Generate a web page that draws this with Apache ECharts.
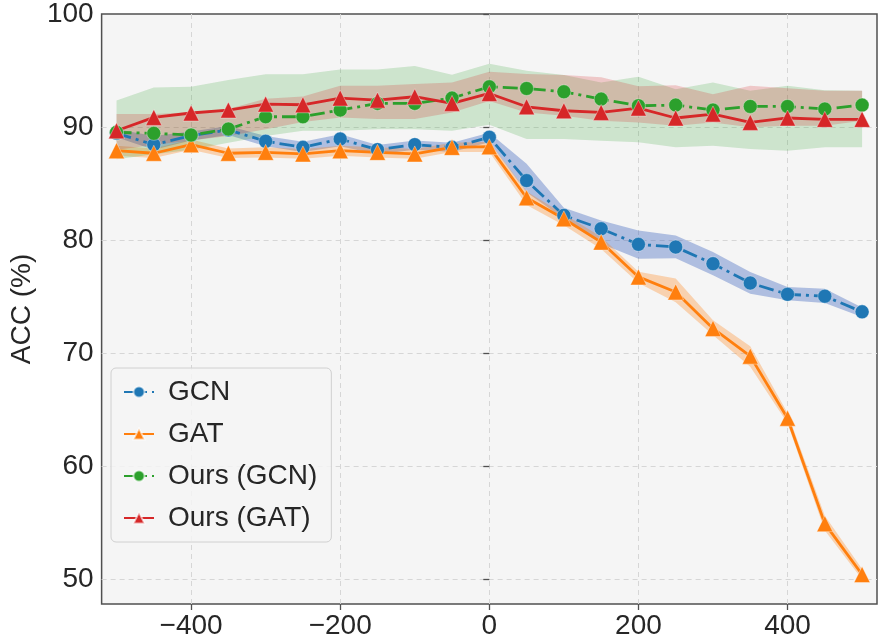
<!DOCTYPE html>
<html>
<head>
<meta charset="utf-8">
<script src="https://cdn.jsdelivr.net/npm/echarts@6/dist/echarts.min.js"></script>
<style>
html,body{margin:0;padding:0;background:#fff;}
#chart{width:880px;height:640px;}
</style>
</head>
<body>
<div id="chart"></div>
<script>
const xs = [-500,-450,-400,-350,-300,-250,-200,-150,-100,-50,0,50,100,150,200,250,300,350,400,450,500];

const gcnMean = [89.44,88.44,89.24,89.74,88.74,88.2,88.94,88.0,88.44,88.2,89.09,85.26,82.18,81.0,79.62,79.38,77.91,76.2,75.2,75.03,73.65];
const gcnUpper = [89.8,89.2,89.6,90.1,89.2,88.7,89.35,88.4,88.8,88.6,89.5,86.74,82.85,81.74,80.85,80.4,78.94,77.18,75.85,75.7,74.03];
const gcnLower = [89.1,88.0,88.8,89.3,88.3,87.8,88.3,87.6,88.0,87.8,88.65,84.24,81.88,79.68,78.35,78.4,76.88,75.26,74.68,74.44,73.2];

const gatMean = [87.91,87.68,88.44,87.68,87.76,87.62,87.91,87.76,87.62,88.2,88.26,83.74,81.88,79.82,76.74,75.41,72.18,69.73,64.24,54.91,50.41];
const gatUpper = [88.35,88.1,88.9,88.1,88.2,88.05,88.35,88.2,88.05,88.6,88.7,84.3,82.3,80.3,77.2,76.6,72.9,70.6,64.7,55.6,50.9];
const gatLower = [87.45,87.25,88.0,87.25,87.3,87.2,87.45,87.3,87.2,87.8,87.8,83.1,81.3,79.2,76.2,74.5,71.6,68.8,63.8,54.3,50.0];

const oursGcnMean = [89.53,89.44,89.29,89.82,90.91,90.91,91.5,92.09,92.09,92.56,93.56,93.41,93.12,92.47,91.88,91.94,91.5,91.82,91.82,91.59,91.94];
const oursGcnUpper = [92.35,93.5,93.56,94.15,94.68,94.68,95.1,95.1,95.4,94.62,95.6,94.97,94.6,93.94,94.44,93.35,93.94,93.2,93.65,93.26,93.2];
const oursGcnLower = [87.15,87.6,88.0,88.6,89.2,89.67,89.67,89.8,89.8,89.67,90.2,88.94,88.94,88.79,88.65,88.2,88.35,88.06,87.9,88.2,88.2];

const oursGatMean = [89.67,90.85,91.24,91.5,92.03,91.97,92.56,92.38,92.68,92.09,92.97,91.79,91.44,91.29,91.68,90.8,91.15,90.41,90.8,90.68,90.68];
const oursGatUpper = [91.15,91.15,91.3,91.6,92.5,92.7,93.65,93.65,93.8,93.94,94.9,94.7,94.6,94.4,93.6,93.7,92.9,93.65,93.44,93.2,93.2];
const oursGatLower = [88.0,88.4,88.8,89.2,89.8,90.45,90.85,90.7,90.7,91.29,92.3,91.29,91.0,90.56,90.41,90.12,90.41,89.97,90.12,90.12,90.56];

const names = ['GCN','GAT','Ours (GCN)','Ours (GAT)'];
const xTicks = [-400,-200,0,200,400];
const yTicks = [50,60,70,80,90,100];

const FONT = 'Liberation Sans, Arial, sans-serif';
const dashDot = [15,5,3,5];

function band(lower, upper, color) {
  return {
    type: 'custom',
    silent: true,
    z: 1,
    clip: true,
    data: [[xs[0], lower[0]]],
    renderItem: function (params, api) {
      const pts = [];
      for (let i = 0; i < xs.length; i++) pts.push(api.coord([xs[i], upper[i]]));
      for (let i = xs.length - 1; i >= 0; i--) pts.push(api.coord([xs[i], lower[i]]));
      return { type: 'polygon', shape: { points: pts }, style: { fill: color } };
    }
  };
}

function line(name, mean, color, symbol, size, dash) {
  return {
    name: name,
    type: 'line',
    z: 3,
    data: xs.map((x, i) => [x, mean[i]]),
    symbol: symbol,
    symbolSize: size,
    showAllSymbol: true,
    lineStyle: { color: color, width: 2.8, type: dash },
    itemStyle: { color: color, borderColor: 'rgba(255,255,255,0.6)', borderWidth: 0.6 },
    emphasis: { disabled: true }
  };
}

const axisCommon = {
  axisLine: { show: false },
  axisTick: { show: true, length: 6, lineStyle: { color: '#505050', width: 1.3 } },
  splitLine: { show: true, showMinLine: false, showMaxLine: false, lineStyle: { color: '#d6d6d6', type: [5, 4], width: 1 } }
};

const chart = echarts.init(document.getElementById('chart'), null, { renderer: 'canvas' });
chart.setOption({
  animation: false,
  backgroundColor: '#ffffff',
  grid: {
    left: 97, right: 3, top: 13, bottom: 35,
    show: true, backgroundColor: '#f5f5f5', borderColor: '#505050', borderWidth: 1.5
  },
  xAxis: Object.assign({
    type: 'value', min: -520, max: 520, splitNumber: 5,
    axisLabel: {
      showMinLabel: false, showMaxLabel: false,
      fontSize: 28, fontFamily: FONT, color: '#262626', margin: 8,
      formatter: v => xTicks.indexOf(v) >= 0 ? String(v).replace('-', '\u2212') : ''
    }
  }, axisCommon),
  yAxis: Object.assign({
    type: 'value', min: 47.8, max: 100, splitNumber: 5,
    name: 'ACC (%)', nameLocation: 'middle', nameGap: 62,
    nameTextStyle: { fontSize: 28, fontFamily: FONT, color: '#262626' },
    axisLabel: {
      showMinLabel: false, showMaxLabel: true,
      fontSize: 28, fontFamily: FONT, color: '#262626', margin: 8,
      formatter: v => yTicks.indexOf(v) >= 0 ? String(v) : ''
    }
  }, axisCommon),
  legend: {
    data: names,
    orient: 'vertical',
    left: 111, top: 368,
    itemWidth: 30, itemHeight: 14, itemGap: 14,
    padding: [10, 14, 10, 12],
    backgroundColor: 'rgba(245,245,245,0.85)',
    borderColor: '#d0d0d0', borderWidth: 1, borderRadius: 5,
    textStyle: { fontSize: 28, fontFamily: FONT, color: '#262626', padding: [0, 0, 0, 9] }
  },
  series: [
    band(gcnLower, gcnUpper, 'rgba(60,100,190,0.38)'),
    band(gatLower, gatUpper, 'rgba(255,127,14,0.3)'),
    band(oursGcnLower, oursGcnUpper, 'rgba(44,160,44,0.2)'),
    band(oursGatLower, oursGatUpper, 'rgba(214,39,40,0.22)'),
    line(names[0], gcnMean, '#1f77b4', 'circle', 14, dashDot),
    line(names[1], gatMean, '#ff7f0e', 'triangle', 16, 'solid'),
    line(names[2], oursGcnMean, '#2ca02c', 'circle', 14, dashDot),
    line(names[3], oursGatMean, '#d62728', 'triangle', 16, 'solid')
  ]
});
</script>
</body>
</html>
